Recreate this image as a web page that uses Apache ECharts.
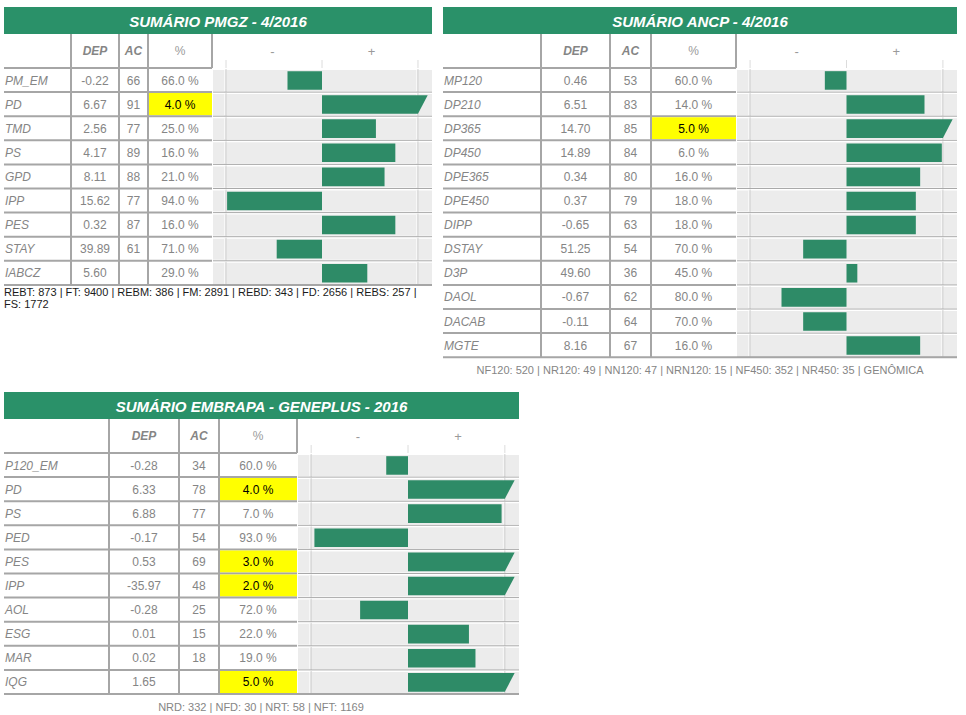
<!DOCTYPE html>
<html><head><meta charset="utf-8">
<script src="https://cdn.jsdelivr.net/npm/echarts@6/dist/echarts.min.js"></script>
<style>html,body{margin:0;padding:0;background:#fff}#c{width:966px;height:715px}</style>
</head><body><div id="c"></div><script>
// ---------- DATA ----------
const pmgzTitle = 'SUMÁRIO PMGZ - 4/2016';
const pmgzLabels = ['PM_EM','PD','TMD','PS','GPD','IPP','PES','STAY','IABCZ'];
const pmgzDep = ['-0.22','6.67','2.56','4.17','8.11','15.62','0.32','39.89','5.60'];
const pmgzAc = ['66','91','77','89','88','77','87','61',''];
const pmgzPct = [66, 4, 25, 16, 21, 94, 16, 71, 29];
const pmgzFoot = 'REBT: 873 | FT: 9400 | REBM: 386 | FM: 2891 | REBD: 343 | FD: 2656 | REBS: 257 |\nFS: 1772';

const ancpTitle = 'SUMÁRIO ANCP - 4/2016';
const ancpLabels = ['MP120','DP210','DP365','DP450','DPE365','DPE450','DIPP','DSTAY','D3P','DAOL','DACAB','MGTE'];
const ancpDep = ['0.46','6.51','14.70','14.89','0.34','0.37','-0.65','51.25','49.60','-0.67','-0.11','8.16'];
const ancpAc = ['53','83','85','84','80','79','63','54','36','62','64','67'];
const ancpPct = [60, 14, 5, 6, 16, 18, 18, 70, 45, 80, 70, 16];
const ancpFoot = 'NF120: 520 | NR120: 49 | NN120: 47 | NRN120: 15 | NF450: 352 | NR450: 35 | GENÔMICA';

const embTitle = 'SUMÁRIO EMBRAPA - GENEPLUS - 2016';
const embLabels = ['P120_EM','PD','PS','PED','PES','IPP','AOL','ESG','MAR','IQG'];
const embDep = ['-0.28','6.33','6.88','-0.17','0.53','-35.97','-0.28','0.01','0.02','1.65'];
const embAc = ['34','78','77','54','69','48','25','15','18',''];
const embPct = [60, 4, 7, 93, 3, 2, 72, 22, 19, 5];
const embFoot = 'NRD: 332 | NFD: 30 | NRT: 58 | NFT: 1169';

const headDep = 'DEP', headAc = 'AC', headPct = '%', headMinus = '-', headPlus = '+';

// ---------- STYLE / LAYOUT ----------
const FONT = '"Liberation Sans", Arial, Helvetica, sans-serif';
const GREEN = '#2a9169', BAR = '#2e8b67', LINE = '#a6a6a6', TXT = '#858585';
const ROW_H = 24.1, HEAD_H = 34, TITLE_H = 27;

const tables = [
  { title: pmgzTitle, labels: pmgzLabels, dep: pmgzDep, ac: pmgzAc, pct: pmgzPct, foot: pmgzFoot,
    L: { left: 4, right: 432, cols: [4, 71, 119, 148, 212], top: 68,
         foot: { x: 4, y: 286, align: 'left', fill: '#1a1a1a' } } },
  { title: ancpTitle, labels: ancpLabels, dep: ancpDep, ac: ancpAc, pct: ancpPct, foot: ancpFoot,
    L: { left: 443, right: 957, cols: [443, 541, 610, 651, 736], top: 68,
         foot: { x: 700, y: 364, align: 'center', fill: TXT } } },
  { title: embTitle, labels: embLabels, dep: embDep, ac: embAc, pct: embPct, foot: embFoot,
    L: { left: 4, right: 519, cols: [4, 109, 179, 219, 297], top: 453,
         foot: { x: 261, y: 701, align: 'center', fill: TXT } } }
];

function txt(text, x, y, opt) {
  return { type: 'text', style: Object.assign({ text: text, x: x, y: y, align: 'center', verticalAlign: 'middle',
    fill: TXT, font: '12px ' + FONT }, opt || {}) };
}
function ln(x1, y1, x2, y2, stroke, w) {
  return { type: 'line', shape: { x1: x1, y1: y1, x2: x2, y2: y2 }, style: { stroke: stroke, lineWidth: w } };
}

function makeRender(t) {
  const L = t.L, c = L.cols, n = t.labels.length;
  return function (params, api) {
    const i = params.dataIndex;
    const p = api.value(0);
    const center = api.coord([50, i]);
    const cy = center[1], x0 = center[0];
    const band = api.size([0, 1])[1];
    const top = cy - band / 2, bot = cy + band / 2;
    const xl = api.coord([101, i])[0], xr = api.coord([-1, i])[0];
    const kids = [];
    const hi = p <= 5;

    // panel row background and grid lines
    kids.push({ type: 'rect', shape: { x: xl + 1, y: top + 2, width: xr - xl - 1, height: band - 3 }, style: { fill: '#ececec' } });
    [94.5, 5.5].forEach(function (v) {
      const gx = api.coord([v, i])[0];
      kids.push(ln(gx - 1.5, top + 2, gx - 1.5, bot - 1, '#f8f8f8', 1));
      kids.push(ln(gx, top + 1, gx, bot, '#d0d0d0', 1));
    });
    kids.push(ln(xl + 1, bot, xr, bot, '#a9a9a9', 1));

    // bar
    const bh = band * 0.77;
    const by = cy - bh / 2 + 0.4;
    if (p > 5.5) {
      const px = api.coord([p, i])[0];
      kids.push({ type: 'rect', shape: { x: Math.min(px, x0), y: by, width: Math.abs(px - x0), height: bh }, style: { fill: BAR } });
    } else {
      const xb = api.coord([5.5, i])[0], xt = api.coord([1, i])[0];
      kids.push({ type: 'polygon', shape: { points: [[x0, by], [xt, by], [xb, by + bh], [x0, by + bh]] }, style: { fill: BAR } });
    }

    // left cells
    if (hi) kids.push({ type: 'rect', shape: { x: c[3] + 1, y: top + 1, width: c[4] - c[3] - 1, height: band - 2 }, style: { fill: '#ffff00' } });
    kids.push(txt(t.labels[i], L.left + 1, cy + 0.5, { align: 'left', font: 'italic 12px ' + FONT }));
    kids.push(txt(t.dep[i], (c[1] + c[2]) / 2, cy + 0.5));
    kids.push(txt(t.ac[i], (c[2] + c[3]) / 2, cy + 0.5));
    kids.push(txt(p.toFixed(1) + ' %', (c[3] + c[4]) / 2, cy + 0.5, hi ? { fill: '#000' } : {}));
    [1, 2, 3].forEach(function (k) { kids.push(ln(c[k], top, c[k], bot, LINE, 2)); });
    if (i === n - 1) kids.push(ln(L.left, bot, xr, bot, LINE, 2));
    else kids.push(ln(L.left, bot, c[4], bot, LINE, 2));

    // header (drawn once, above the first row)
    if (i === 0) {
      const hy = top - HEAD_H / 2;
      kids.push(ln(L.left, top, c[4], top, LINE, 2));
      [1, 2, 3, 4].forEach(function (k) { kids.push(ln(c[k], top - HEAD_H, c[k], top, LINE, 2)); });
      kids.push(txt(headDep, (c[1] + c[2]) / 2, hy, { font: 'italic bold 12px ' + FONT }));
      kids.push(txt(headAc, (c[2] + c[3]) / 2, hy, { font: 'italic bold 12px ' + FONT }));
      kids.push(txt(headPct, (c[3] + c[4]) / 2, hy, { fill: '#9a9a9a' }));
      kids.push(txt(headMinus, api.coord([73, 0])[0], hy, { fill: '#9a9a9a', font: '13px ' + FONT }));
      kids.push(txt(headPlus, api.coord([27, 0])[0], hy, { fill: '#9a9a9a', font: '13px ' + FONT }));
      [94.5, 50, 5.5].forEach(function (v) {
        const gx = api.coord([v, 0])[0];
        kids.push(ln(gx, top - 8, gx, top, '#dcdcdc', 1));
      });
    }
    return { type: 'group', children: kids };
  };
}

const grids = [], xAxes = [], yAxes = [], series = [], graphics = [];
tables.forEach(function (t, k) {
  const L = t.L, c = L.cols;
  grids.push({ left: c[4], top: L.top, width: L.right - c[4], height: ROW_H * t.labels.length });
  xAxes.push({ gridIndex: k, type: 'value', min: -1, max: 101, inverse: true, show: false });
  yAxes.push({ gridIndex: k, type: 'category', data: t.labels, inverse: true, show: false });
  series.push({ type: 'custom', xAxisIndex: k, yAxisIndex: k, clip: false, silent: true,
    data: t.pct.map(function (p, i) { return [p, i]; }), encode: { x: 0, y: 1 },
    renderItem: makeRender(t) });
  const tTop = L.top - HEAD_H - TITLE_H;
  graphics.push({ type: 'rect', shape: { x: L.left, y: tTop, width: L.right - L.left, height: TITLE_H }, style: { fill: GREEN } });
  graphics.push({ type: 'text', style: { text: t.title, x: (L.left + L.right) / 2, y: tTop + TITLE_H / 2 + 0.5,
    align: 'center', verticalAlign: 'middle', fill: '#fff', font: 'italic bold 15px ' + FONT } });
  graphics.push({ type: 'text', style: { text: t.foot, x: L.foot.x, y: L.foot.y, align: L.foot.align,
    verticalAlign: 'top', fill: L.foot.fill, font: '11px ' + FONT, lineHeight: 12 } });
});

const chart = echarts.init(document.getElementById('c'), null, { renderer: 'svg' });
chart.setOption({
  animation: false,
  backgroundColor: '#fff',
  grid: grids, xAxis: xAxes, yAxis: yAxes, series: series,
  graphic: { elements: graphics }
});
</script></body></html>
